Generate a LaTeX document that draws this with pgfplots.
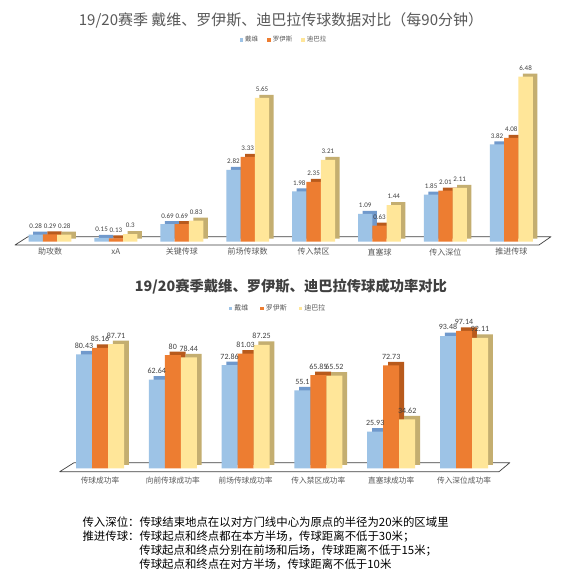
\documentclass[border=0pt]{standalone}
\usepackage{pgfplots}
\pgfplotsset{compat=1.18}
\usepackage{pgfplotstable}
\usepackage{fontspec}
\setmainfont{Noto Sans CJK SC}
\newfontfamily\num{Carlito}
\definecolor{cBlue}{HTML}{9DC3E6}
\definecolor{cBlueS}{HTML}{7099CC}
\definecolor{cOrange}{HTML}{ED7D31}
\definecolor{cOrangeS}{HTML}{B85A1C}
\definecolor{cYellow}{HTML}{FFE699}
\definecolor{cYellowS}{HTML}{C4AE70}
\definecolor{c595959}{HTML}{595959}
\definecolor{c404040}{HTML}{404040}

\pgfplotstableread{
x dai roy dyb
0 0.28 0.29 0.28
1 0.15 0.13 0.3
2 0.69 0.69 0.83
3 2.82 3.33 5.65
4 1.98 2.35 3.21
5 1.09 0.63 1.44
6 1.85 2.01 2.11
7 3.82 4.08 6.48
}\topdata

\pgfplotstableread{
x dai roy dyb
0 80.43 85.16 87.71
1 62.64 80 78.44
2 72.86 81.03 87.25
3 55.1 65.85 65.52
4 25.93 72.73 34.62
5 93.48 97.14 92.11
}\botdata

\pgfplotsset{
  sqB/.style={legend image code/.code={\fill[cBlue] (0pt,-1.8pt) rectangle (3.6pt,1.8pt);}},
  sqO/.style={legend image code/.code={\fill[cOrange] (0pt,-1.8pt) rectangle (3.6pt,1.8pt);}},
  sqY/.style={legend image code/.code={\fill[cYellow] (0pt,-1.8pt) rectangle (3.6pt,1.8pt);}},
}

\begin{document}
\begin{tikzpicture}
\path[use as bounding box, fill=white] (0pt,0pt) rectangle (564pt,582pt);
% floors
\draw[black!75, line width=0.7pt, line join=round] (15pt,337pt) -- (28pt,345.3pt) -- (551pt,345.3pt) -- (539pt,337pt) -- cycle;
\draw[black!75, line width=0.7pt, line join=round] (59.7pt,110.3pt) -- (74pt,119.3pt) -- (509.8pt,119.3pt) -- (499pt,110.3pt) -- cycle;
% titles
\node[font=\fontsize{15}{18}\selectfont, text=c595959] at (281pt,562pt) {19/20赛季 戴维、罗伊斯、迪巴拉传球数据对比（每90分钟）};
\node[font=\bfseries\fontsize{14.3}{17}\selectfont, text=c404040] at (291pt,295.3pt) {19/20赛季戴维、罗伊斯、迪巴拉传球成功率对比};

\begin{axis}[at={(17.05pt,340.3pt)}, anchor=south west, scale only axis,
  width=527.2pt, height=178.2pt, xmin=-0.5, xmax=7.5, ymin=0, ymax=7, clip=false,
  axis line style={draw=none}, major tick length=0pt, ytick=\empty,
  xtick={0,...,7},
  xticklabels={助攻数,xA,关键传球,前场传球数,传入禁区,直塞球,传入深位,推进传球},
  xticklabel style={font=\fontsize{8}{9}\selectfont, text=c595959, yshift=-3pt},
  /pgf/number format/assume math mode=true,
  every node near coord/.append style={font=\num\fontsize{7}{8}\selectfont, text=c404040, yshift=2.5pt},
  legend columns=-1,
  legend style={at={(0.5064,1.132)}, anchor=center, draw=none, fill=none,
    font=\fontsize{6.5}{7}\selectfont, text=c595959, inner sep=0pt,
    /tikz/every even column/.append style={column sep=7pt}},
]
\addplot[ybar, bar width=14.3pt, bar shift=-14.3pt, fill=cBlueS, draw=none, xshift=4.5pt, yshift=3pt, forget plot] table[x=x,y=dai]{\topdata};
\addplot[ybar, bar width=14.3pt, bar shift=-14.3pt, fill=cBlue, draw=none, nodes near coords, every node near coord/.append style={xshift=-14.3pt}, sqB] table[x=x,y=dai]{\topdata};
\addlegendentry{戴维}
\addplot[ybar, bar width=14.3pt, bar shift=0pt, fill=cOrangeS, draw=none, xshift=4.5pt, yshift=3pt, forget plot] table[x=x,y=roy]{\topdata};
\addplot[ybar, bar width=14.3pt, bar shift=0pt, fill=cOrange, draw=none, nodes near coords, sqO] table[x=x,y=roy]{\topdata};
\addlegendentry{罗伊斯}
\addplot[ybar, bar width=14.3pt, bar shift=14.3pt, fill=cYellowS, draw=none, xshift=4.5pt, yshift=3pt, forget plot] table[x=x,y=dyb]{\topdata};
\addplot[ybar, bar width=14.3pt, bar shift=14.3pt, fill=cYellow, draw=none, nodes near coords, every node near coord/.append style={xshift=14.3pt}, sqY] table[x=x,y=dyb]{\topdata};
\addlegendentry{迪巴拉}
\end{axis}

\begin{axis}[at={(63.6pt,113.7pt)}, anchor=south west, scale only axis,
  width=436.8pt, height=141.5pt, xmin=-0.5, xmax=5.5, ymin=0, ymax=100, clip=false,
  axis line style={draw=none}, major tick length=0pt, ytick=\empty,
  xtick={0,...,5},
  xticklabels={传球成功率,向前传球成功率,前场传球成功率,传入禁区成功率,直塞球成功率,传入深位成功率},
  xticklabel style={font=\fontsize{7.7}{9}\selectfont, text=c595959, yshift=-5pt},
  /pgf/number format/assume math mode=true,
  every node near coord/.append style={font=\num\fontsize{8}{9}\selectfont, text=c404040, yshift=2.5pt},
  legend columns=-1,
  legend style={at={(0.491,1.129)}, anchor=center, draw=none, fill=none,
    font=\fontsize{7}{8}\selectfont, text=c595959, inner sep=0pt,
    /tikz/every even column/.append style={column sep=10pt}},
]
\addplot[ybar, bar width=16pt, bar shift=-16pt, fill=cBlueS, draw=none, xshift=4.8pt, yshift=3.5pt, forget plot] table[x=x,y=dai]{\botdata};
\addplot[ybar, bar width=16pt, bar shift=-16pt, fill=cBlue, draw=none, nodes near coords, every node near coord/.append style={xshift=-16pt}, sqB] table[x=x,y=dai]{\botdata};
\addlegendentry{戴维}
\addplot[ybar, bar width=16pt, bar shift=0pt, fill=cOrangeS, draw=none, xshift=4.8pt, yshift=3.5pt, forget plot] table[x=x,y=roy]{\botdata};
\addplot[ybar, bar width=16pt, bar shift=0pt, fill=cOrange, draw=none, nodes near coords, sqO] table[x=x,y=roy]{\botdata};
\addlegendentry{罗伊斯}
\addplot[ybar, bar width=16pt, bar shift=16pt, fill=cYellowS, draw=none, xshift=4.8pt, yshift=3.5pt, forget plot] table[x=x,y=dyb]{\botdata};
\addplot[ybar, bar width=16pt, bar shift=16pt, fill=cYellow, draw=none, nodes near coords, every node near coord/.append style={xshift=16pt}, sqY] table[x=x,y=dyb]{\botdata};
\addlegendentry{迪巴拉}
\end{axis}

% notes
\node[anchor=west, inner sep=0pt, font=\fontsize{11.4}{13}\selectfont] at (82.4pt,59.7pt) {传入深位：传球结束地点在以对方门线中心为原点的半径为20米的区域里};
\node[anchor=west, inner sep=0pt, font=\fontsize{11.4}{13}\selectfont] at (82.4pt,45.3pt) {推进传球：传球起点和终点都在本方半场，传球距离不低于30米；};
\node[anchor=west, inner sep=0pt, font=\fontsize{11.4}{13}\selectfont] at (139.2pt,31pt) {传球起点和终点分别在前场和后场，传球距离不低于15米；};
\node[anchor=west, inner sep=0pt, font=\fontsize{11.4}{13}\selectfont] at (139.2pt,18pt) {传球起点和终点在对方半场，传球距离不低于10米};
\end{tikzpicture}
\end{document}
